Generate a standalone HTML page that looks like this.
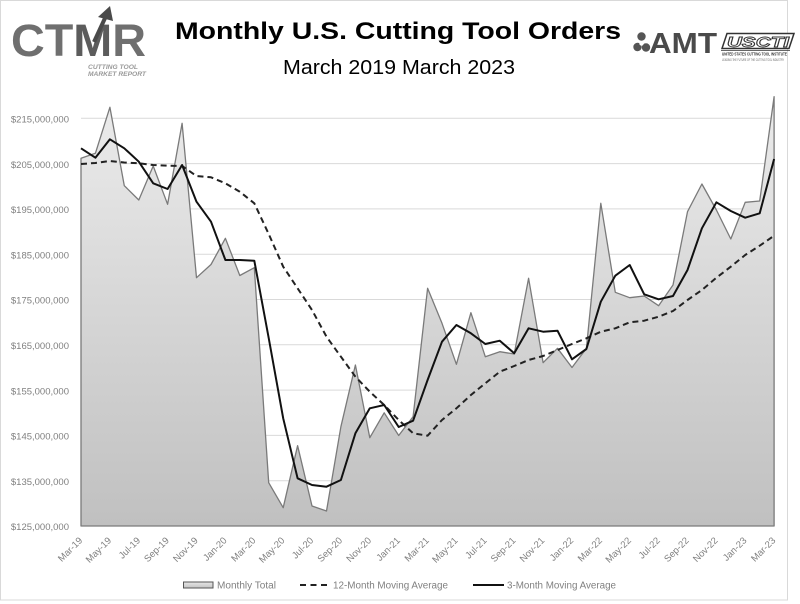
<!DOCTYPE html>
<html>
<head>
<meta charset="utf-8">
<style>
html,body{margin:0;padding:0;background:#fff;}
svg{display:block;}
text{font-family:"Liberation Sans",sans-serif;}
</style>
</head>
<body>
<svg width="800" height="604" viewBox="0 0 800 604" xmlns="http://www.w3.org/2000/svg">
<defs>
<linearGradient id="ag" x1="0" y1="96" x2="0" y2="526" gradientUnits="userSpaceOnUse">
<stop offset="0" stop-color="#ececec"/>
<stop offset="1" stop-color="#c0c0c0"/>
</linearGradient>
<linearGradient id="lg" x1="0" y1="0" x2="0" y2="1">
<stop offset="0" stop-color="#e6e6e6"/>
<stop offset="1" stop-color="#c4c4c4"/>
</linearGradient>
</defs>
<rect x="0.5" y="0.5" width="787" height="599.5" fill="#fff" stroke="#d9d9d9" stroke-width="1"/>

<!-- CTMR logo -->
<text x="11" y="56" font-size="45" font-weight="bold" fill="#6f6f6f" textLength="135" lengthAdjust="spacingAndGlyphs">CT<tspan fill="#5c5c5c">M</tspan>R</text>
<line x1="94" y1="42" x2="106" y2="16" stroke="#4a4a4a" stroke-width="4"/>
<polygon points="110,6 98,17 113,21" fill="#4a4a4a"/>
<text x="88" y="69" font-size="6.5" font-weight="bold" font-style="italic" fill="#9a9a9a" textLength="50" lengthAdjust="spacingAndGlyphs">CUTTING TOOL</text>
<text x="88" y="76" font-size="6.5" font-weight="bold" font-style="italic" fill="#9a9a9a" textLength="58" lengthAdjust="spacingAndGlyphs">MARKET REPORT</text>

<!-- Title -->
<text x="175" y="39" font-size="24" font-weight="bold" fill="#000" textLength="446" lengthAdjust="spacingAndGlyphs">Monthly U.S. Cutting Tool Orders</text>
<text x="283" y="74" font-size="20" fill="#000" textLength="232" lengthAdjust="spacingAndGlyphs">March 2019 March 2023</text>

<!-- AMT logo -->
<g fill="#555">
<circle cx="641.5" cy="36.5" r="4.2"/>
<circle cx="637.5" cy="47" r="4.2"/>
<circle cx="646" cy="47.5" r="4.2"/>
<circle cx="641.5" cy="43.5" r="2.2" fill="#fff"/>
</g>
<text x="649" y="53" font-size="29" font-weight="bold" fill="#4a4a4a" textLength="68" lengthAdjust="spacingAndGlyphs">AMT</text>

<!-- USCTI logo -->
<polygon points="727,33.5 794,33.5 789,48.5 722,48.5" fill="#fff" stroke="#333" stroke-width="1.5"/>
<text x="727" y="47" font-size="15" font-weight="bold" font-style="italic" fill="#fff" stroke="#333" stroke-width="0.9" textLength="62" lengthAdjust="spacingAndGlyphs">USCTI</text>
<line x1="721" y1="50.5" x2="790" y2="50.5" stroke="#333" stroke-width="0.8"/>
<text x="722" y="55.5" font-size="4.2" font-weight="bold" fill="#333" textLength="65" lengthAdjust="spacingAndGlyphs">UNITED STATES CUTTING TOOL INSTITUTE</text>
<text x="722" y="61" font-size="3.2" fill="#666" textLength="62" lengthAdjust="spacingAndGlyphs">LEADING THE FUTURE OF THE CUTTING TOOL INDUSTRY</text>

<!-- gridlines -->
<g stroke="#d9d9d9" stroke-width="1">
<line x1="81" y1="118.3" x2="774" y2="118.3"/>
<line x1="81" y1="163.6" x2="774" y2="163.6"/>
<line x1="81" y1="208.9" x2="774" y2="208.9"/>
<line x1="81" y1="254.2" x2="774" y2="254.2"/>
<line x1="81" y1="299.5" x2="774" y2="299.5"/>
<line x1="81" y1="344.8" x2="774" y2="344.8"/>
<line x1="81" y1="390.1" x2="774" y2="390.1"/>
<line x1="81" y1="435.4" x2="774" y2="435.4"/>
<line x1="81" y1="480.7" x2="774" y2="480.7"/>
<line x1="81" y1="526" x2="774" y2="526"/>
</g>

<!-- y labels -->
<g font-size="9.5" fill="#808080" text-anchor="end">
<text x="69" y="122.5">$215,000,000</text>
<text x="69" y="167.8">$205,000,000</text>
<text x="69" y="213.1">$195,000,000</text>
<text x="69" y="258.4">$185,000,000</text>
<text x="69" y="303.7">$175,000,000</text>
<text x="69" y="349">$165,000,000</text>
<text x="69" y="394.3">$155,000,000</text>
<text x="69" y="439.6">$145,000,000</text>
<text x="69" y="484.9">$135,000,000</text>
<text x="69" y="530.2">$125,000,000</text>
</g>

<!-- area: monthly total -->
<polygon fill="url(#ag)" stroke="#7a7a7a" stroke-width="1.3" stroke-linejoin="round" points="81,526 81,158.3 95.4,153.3 109.9,107.3 124.3,185.7 138.8,200 153.2,166 167.6,204.3 182.1,123.3 196.5,277.7 211,264.5 225.4,238.3 239.8,275.5 254.3,267.7 268.7,482.7 283.2,507.7 297.6,445.7 312,506 326.5,511 340.9,426.7 355.4,365 369.8,437.7 384.2,412.8 398.7,435.5 413.1,416.7 427.6,288.3 442,323.3 456.4,364.3 470.9,312.7 485.3,356.7 499.8,351.7 514.2,354 528.6,278.3 543.1,362.7 557.5,348.3 572,367.5 586.4,348.3 600.8,203.3 615.3,292.3 629.7,297.7 644.2,296 658.6,305.7 673,285 687.5,211.7 701.9,184 716.4,210 730.8,239 745.2,202.3 759.7,201 774.1,96.7 774.1,526"/>

<!-- 12-month moving average -->
<polyline fill="none" stroke="#222" stroke-width="2" stroke-dasharray="6,4" stroke-linejoin="round" points="81,164 95.4,163 109.9,161 124.3,162.5 138.8,163.3 153.2,165 167.6,165.7 182.1,166 196.5,176 211,177.3 225.4,183.3 239.8,191.7 254.3,203.3 268.7,234 283.2,266.7 297.6,288.3 312,310 326.5,336.7 340.9,356.7 355.4,376.7 369.8,391.7 384.2,405 398.7,420 413.1,433.3 427.6,435.7 442,420 456.4,408.3 470.9,395 485.3,383.3 499.8,371.7 514.2,366 528.6,360 543.1,356 557.5,350 572,344 586.4,338.3 600.8,331.7 615.3,328.3 629.7,322.3 644.2,320.7 658.6,316.7 673,311 687.5,300 701.9,290 716.4,277.7 730.8,266.7 745.2,255 759.7,245.7 774.1,235.7"/>

<!-- 3-month moving average -->
<polyline fill="none" stroke="#111" stroke-width="2" stroke-linejoin="round" points="81,148.3 95.4,157.7 109.9,139.3 124.3,148.3 138.8,161.7 153.2,183.3 167.6,189 182.1,165 196.5,201.7 211,221.7 225.4,260 239.8,260 254.3,260.7 268.7,338 283.2,418.3 297.6,478.3 312,485 326.5,486.7 340.9,480 355.4,433.3 369.8,408.3 384.2,405 398.7,427 413.1,420.7 427.6,380 442,341.7 456.4,325 470.9,333.3 485.3,344 499.8,340.7 514.2,353.3 528.6,328.3 543.1,331.7 557.5,330.7 572,359.3 586.4,349 600.8,301.7 615.3,275.7 629.7,265 644.2,294.3 658.6,299.3 673,296 687.5,270 701.9,228.3 716.4,202.3 730.8,211 745.2,217.7 759.7,213.3 774.1,159"/>

<!-- x labels -->
<g font-size="9.5" fill="#808080" text-anchor="end">
<text transform="translate(83,541) rotate(-45)">Mar-19</text>
<text transform="translate(111.9,541) rotate(-45)">May-19</text>
<text transform="translate(140.8,541) rotate(-45)">Jul-19</text>
<text transform="translate(169.6,541) rotate(-45)">Sep-19</text>
<text transform="translate(198.5,541) rotate(-45)">Nov-19</text>
<text transform="translate(227.4,541) rotate(-45)">Jan-20</text>
<text transform="translate(256.3,541) rotate(-45)">Mar-20</text>
<text transform="translate(285.2,541) rotate(-45)">May-20</text>
<text transform="translate(314,541) rotate(-45)">Jul-20</text>
<text transform="translate(342.9,541) rotate(-45)">Sep-20</text>
<text transform="translate(371.8,541) rotate(-45)">Nov-20</text>
<text transform="translate(400.7,541) rotate(-45)">Jan-21</text>
<text transform="translate(429.6,541) rotate(-45)">Mar-21</text>
<text transform="translate(458.4,541) rotate(-45)">May-21</text>
<text transform="translate(487.3,541) rotate(-45)">Jul-21</text>
<text transform="translate(516.2,541) rotate(-45)">Sep-21</text>
<text transform="translate(545.1,541) rotate(-45)">Nov-21</text>
<text transform="translate(574,541) rotate(-45)">Jan-22</text>
<text transform="translate(602.8,541) rotate(-45)">Mar-22</text>
<text transform="translate(631.7,541) rotate(-45)">May-22</text>
<text transform="translate(660.6,541) rotate(-45)">Jul-22</text>
<text transform="translate(689.5,541) rotate(-45)">Sep-22</text>
<text transform="translate(718.4,541) rotate(-45)">Nov-22</text>
<text transform="translate(747.2,541) rotate(-45)">Jan-23</text>
<text transform="translate(776.1,541) rotate(-45)">Mar-23</text>
</g>

<!-- legend -->
<rect x="183.5" y="582" width="29.5" height="6" fill="url(#lg)" stroke="#555" stroke-width="1"/>
<text x="217" y="588.5" font-size="10" fill="#808080" textLength="59" lengthAdjust="spacingAndGlyphs">Monthly Total</text>
<line x1="300" y1="585" x2="331" y2="585" stroke="#222" stroke-width="2" stroke-dasharray="6,4.5"/>
<text x="333" y="588.5" font-size="10" fill="#808080" textLength="115" lengthAdjust="spacingAndGlyphs">12-Month Moving Average</text>
<line x1="473" y1="585" x2="504" y2="585" stroke="#111" stroke-width="2"/>
<text x="507" y="588.5" font-size="10" fill="#808080" textLength="109" lengthAdjust="spacingAndGlyphs">3-Month Moving Average</text>
</svg>
</body>
</html>
